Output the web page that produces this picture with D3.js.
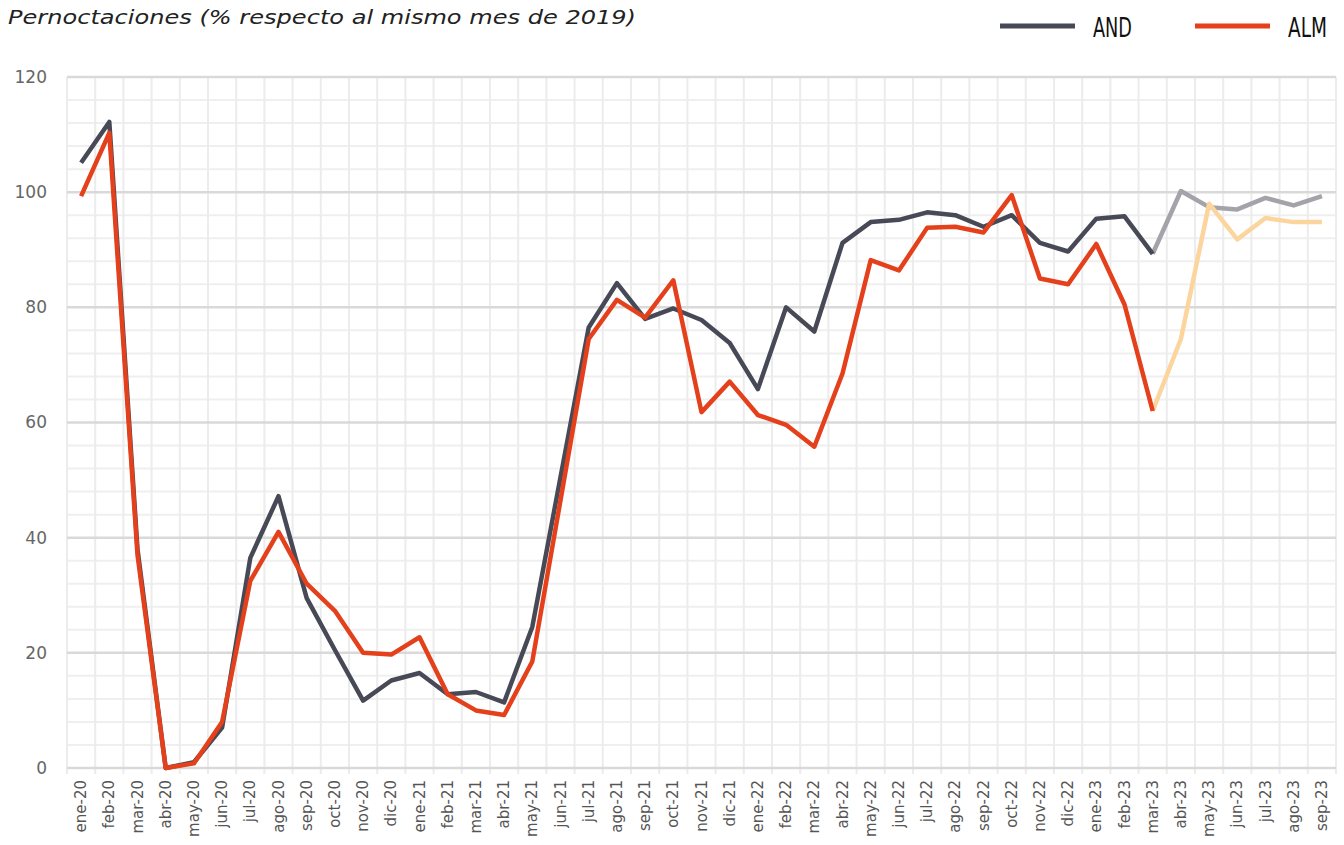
<!DOCTYPE html>
<html>
<head>
<meta charset="utf-8">
<style>
  body { margin: 0; background: #fff; font-family: "DejaVu Sans", sans-serif; }
  .title { font-style: italic; font-size: 20px; fill: #222; }
  .ylab { font-size: 17px; fill: #666; }
  .xlab { font-size: 15px; fill: #555; }
  .legend text { font-family: "Liberation Sans Narrow", "DejaVu Sans Condensed", sans-serif; font-size: 26px; fill: #111; }
</style>
<script src="https://d3js.org/d3.v7.min.js"></script>
</head>
<body>
<script>
// months (x categories)
const months = ["ene-20","feb-20","mar-20","abr-20","may-20","jun-20","jul-20","ago-20","sep-20","oct-20","nov-20","dic-20",
  "ene-21","feb-21","mar-21","abr-21","may-21","jun-21","jul-21","ago-21","sep-21","oct-21","nov-21","dic-21",
  "ene-22","feb-22","mar-22","abr-22","may-22","jun-22","jul-22","ago-22","sep-22","oct-22","nov-22","dic-22",
  "ene-23","feb-23","mar-23","abr-23","may-23","jun-23","jul-23","ago-23","sep-23"];

// AND series
const andVals = [105.1,112.2,38,0,1,7,36.5,47.2,29.5,20.5,11.7,15.2,
  16.5,12.8,13.2,11.4,24.5,50.5,76.5,84.2,78,79.8,77.8,73.8,
  65.8,80,75.8,91.2,94.8,95.2,96.5,96,94,96,91.2,89.7,
  95.4,95.8,89.3,100.2,97.4,97,99,97.7,99.3];

// ALM series
const almVals = [99.3,110.3,37,0,0.8,8,32.5,41,32,27.3,20,19.7,
  22.7,12.8,10,9.2,18.5,46.5,74.5,81.3,78.2,84.7,61.8,67.1,
  61.3,59.6,55.8,68.5,88.2,86.4,93.8,94,93,99.5,85,84,
  91,80.5,62,74.5,98,91.8,95.5,94.8,94.8];

const fadeFrom = 38; // mar-23: later months drawn faded
const yTicks = [0,20,40,60,80,100,120];

const W = 1344, H = 845;
const margin = {top: 77, right: 8, bottom: 77, left: 67};

const svg = d3.select("body").append("svg").attr("width", W).attr("height", H);

const x = d3.scaleBand().domain(months).range([margin.left, W - margin.right]);
const y = d3.scaleLinear().domain([0, 120]).range([H - margin.bottom, margin.top]);

// grid
const g = svg.append("g");
g.selectAll("line.minor").data(d3.range(0, 121, 4).filter(v => v % 20 !== 0)).join("line")
  .attr("x1", margin.left).attr("x2", W - margin.right)
  .attr("y1", d => y(d)).attr("y2", d => y(d))
  .attr("stroke", "#efefef").attr("stroke-width", 2);
const bounds = months.map(m => x(m)).concat([W - margin.right]);
g.selectAll("line.vert").data(bounds).join("line")
  .attr("x1", d => d).attr("x2", d => d)
  .attr("y1", y(120)).attr("y2", y(0) + 6)
  .attr("stroke", "#ececec").attr("stroke-width", 2);
g.selectAll("line.major").data(yTicks).join("line")
  .attr("x1", margin.left).attr("x2", W - margin.right)
  .attr("y1", d => y(d)).attr("y2", d => y(d))
  .attr("stroke", "#d9d9d9").attr("stroke-width", 2.5);

// y labels
svg.selectAll("text.ylab").data(yTicks).join("text").attr("class", "ylab")
  .attr("x", 47).attr("y", d => y(d)).attr("dy", "0.35em")
  .attr("text-anchor", "end").text(d => d);

// x labels
svg.selectAll("text.xlab").data(months).join("text").attr("class", "xlab")
  .attr("transform", d => `translate(${x(d) + x.bandwidth() / 2 + 5},${y(0) + 12}) rotate(-90)`)
  .attr("text-anchor", "end").text(d => d);

// lines
const line = d3.line().x(d => x(d.m) + x.bandwidth() / 2).y(d => y(d.v));
function drawSeries(vals, col, faded) {
  const pts = vals.map((v, i) => ({m: months[i], v}));
  svg.append("path").datum(pts.slice(fadeFrom))
    .attr("fill", "none").attr("stroke", faded).attr("stroke-width", 4.5)
    .attr("stroke-linejoin", "round").attr("d", line);
  svg.append("path").datum(pts.slice(0, fadeFrom + 1))
    .attr("fill", "none").attr("stroke", col).attr("stroke-width", 4.5)
    .attr("stroke-linejoin", "round").attr("d", line);
}
drawSeries(andVals, "#474a56", "#a3a3aa");
drawSeries(almVals, "#e3401b", "#fbd59d");

// title
svg.append("text").attr("class", "title").attr("x", 8).attr("y", 24)
  .attr("textLength", 628).attr("lengthAdjust", "spacingAndGlyphs")
  .text("Pernoctaciones (% respecto al mismo mes de 2019)");

// legend
const leg = svg.append("g").attr("class", "legend");
const items = [{name: "AND", col: "#474a56", x: 1000}, {name: "ALM", col: "#e3401b", x: 1195}];
items.forEach(it => {
  leg.append("line").attr("x1", it.x).attr("x2", it.x + 75).attr("y1", 26).attr("y2", 26)
    .attr("stroke", it.col).attr("stroke-width", 5);
  leg.append("text").attr("x", it.x + 93).attr("y", 37)
    .attr("textLength", 39).attr("lengthAdjust", "spacingAndGlyphs").text(it.name);
});
</script>
</body>
</html>
